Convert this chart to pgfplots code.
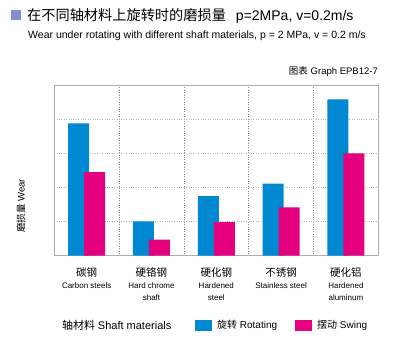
\documentclass[border=0pt]{standalone}
\usepackage{fontspec}
\setmainfont{Liberation Sans}
\newfontfamily\cjk{Noto Sans CJK SC}
\usepackage{pgfplots}
\pgfplotsset{compat=1.18}
\definecolor{rotblue}{HTML}{0088D2}
\definecolor{swpink}{HTML}{E4007F}
\definecolor{sq}{HTML}{7F8FCF}
\begin{document}
\begin{tikzpicture}[x=1pt,y=1pt]
\path[use as bounding box] (0,0) rectangle (400,360);
\fill[sq] (11,340) rectangle (21,350);
\node[anchor=west,inner sep=0] at (27,344) {{\cjk\fontsize{14.2}{16}\selectfont 在不同轴材料上旋转时的磨损量}\hspace{10pt}{\fontsize{14}{16}\selectfont p=2MPa, v=0.2m/s}};
\node[anchor=west,inner sep=0] at (28,324) {\fontsize{10.5}{12}\selectfont Wear under rotating with different shaft materials, p = 2 MPa, v = 0.2 m/s};
\node[anchor=east,inner sep=0] at (378,289) {{\cjk\fontsize{9.5}{11}\selectfont 图表} {\fontsize{9.5}{11}\selectfont Graph EPB12-7}};
\node[rotate=90,inner sep=0] at (21,154) {{\cjk\fontsize{9.5}{11}\selectfont 磨损量} {\fontsize{9.5}{11}\selectfont Wear}};
\node[anchor=west,inner sep=0] at (62,35) {{\cjk\fontsize{11}{13}\selectfont 轴材料} {\fontsize{11}{13}\selectfont Shaft materials}};
\begin{axis}[
  at={(54.3pt,104.3pt)}, anchor=south west,
  scale only axis, width=324pt, height=170pt,
  xmin=-0.5, xmax=4.5, ymin=0, ymax=5,
  xtick={0,1,2,3,4},
  xticklabels={
    {{\cjk\fontsize{10.5}{13}\selectfont 碳钢}\\{\fontsize{8}{11}\selectfont Carbon steels}},
    {{\cjk\fontsize{10.5}{13}\selectfont 硬铬钢}\\{\fontsize{8}{11}\selectfont Hard chrome}\\{\fontsize{8}{11}\selectfont shaft}},
    {{\cjk\fontsize{10.5}{13}\selectfont 硬化钢}\\{\fontsize{8}{11}\selectfont Hardened}\\{\fontsize{8}{11}\selectfont steel}},
    {{\cjk\fontsize{10.5}{13}\selectfont 不锈钢}\\{\fontsize{8}{11}\selectfont Stainless steel}},
    {{\cjk\fontsize{10.5}{13}\selectfont 硬化铝}\\{\fontsize{8}{11}\selectfont Hardened}\\{\fontsize{8}{11}\selectfont aluminum}}},
  xticklabel style={align=center, anchor=north, yshift=-8pt},
  minor xtick={0.5,1.5,2.5,3.5},
  minor x grid style={dotted, draw=gray!90, line width=0.7pt},
  xminorgrids,
  ytick={1,2,3,4}, yticklabels={},
  ymajorgrids,
  major grid style={dotted, draw=gray!55, line width=0.8pt},
  major tick length=0pt, minor tick length=0pt,
  axis line style={draw=gray!65, line width=1pt},
  ybar, bar width=21pt,
  legend columns=-1,
  legend style={at={(0.434,-0.408)}, anchor=west, draw=none, inner xsep=0pt, inner ysep=0pt,
    font=\fontsize{10}{12}\selectfont,
    /tikz/every even column/.append style={column sep=16pt}},
  legend image code/.code={\fill[#1] (0pt,-5.5pt) rectangle (17pt,5.5pt);},
]
\addplot[fill=rotblue, draw=none, bar shift=-8pt] coordinates {(0,3.89) (1,1.01) (2,1.75) (3,2.12) (4,4.60)};
\addlegendentry{\hspace{3pt}{\cjk 旋转} Rotating}
\addplot[fill=swpink, draw=none, bar shift=8pt] coordinates {(0,2.46) (1,0.47) (2,0.99) (3,1.42) (4,3.01)};
\addlegendentry{\hspace{3pt}{\cjk 摆动} Swing}
\end{axis}
\end{tikzpicture}
\end{document}
